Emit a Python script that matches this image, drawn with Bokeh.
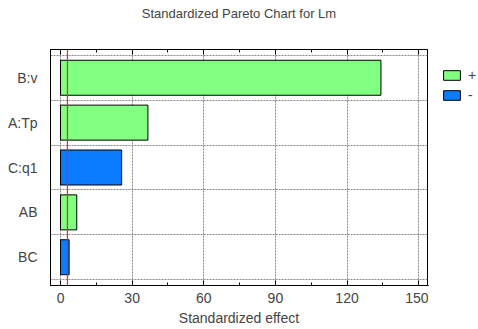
from bokeh.plotting import figure
from bokeh.layouts import row
from bokeh.models import (ColumnDataSource, Range1d, FixedTicker, SingleIntervalTicker,
                          LinearAxis, Span, Legend, LegendItem)
from bokeh.embed import file_html
from bokeh.resources import INLINE

# ---- data ----
title_text = "Standardized Pareto Chart for Lm"
factors = ["B:v", "A:Tp", "C:q1", "AB", "BC"]
effects = [134.2, 36.6, 25.6, 6.8, 3.6]
signs = ["+", "+", "-", "+", "-"]
critical = 2.9
x_ticks = [0, 30, 60, 90, 120, 150]

FONT = "Liberation Sans"
GREEN = "#80ff80"
BLUE = "#0a7cff"

n = len(factors)
ypos = [n - i for i in range(n)]

H = 329
p = figure(width=428, height=H, output_backend="svg", toolbar_location=None,
           x_range=Range1d(-4.2, 153.7), y_range=Range1d(0.37, 5.63),
           min_border_left=50, min_border_right=1, min_border_top=49, min_border_bottom=44)
p.background_fill_color = "white"
p.border_fill_color = "white"
p.outline_line_color = "black"
p.outline_line_width = 1

sources = {}
for s in ("+", "-"):
    idx = [i for i in range(n) if signs[i] == s]
    sources[s] = ColumnDataSource(dict(y=[ypos[i] for i in idx], right=[effects[i] for i in idx]))
colors = {"+": GREEN, "-": BLUE}

for s in ("+", "-"):
    p.hbar(y="y", left=0, right="right", height=0.78, source=sources[s],
           fill_color=colors[s], line_color="black", line_width=1)

p.add_layout(Span(location=critical, dimension="height", line_color="#ff2020", line_width=1.2))

# grids
p.xgrid.ticker = FixedTicker(ticks=x_ticks)
p.ygrid.ticker = FixedTicker(ticks=[y + 0.5 for y in range(0, n + 1)])
for g in (p.xgrid, p.ygrid):
    g.grid_line_color = "#888888"
    g.grid_line_dash = "2 1"
    g.grid_line_width = 1

# bottom axis
xa = p.xaxis[0]
xa.ticker = SingleIntervalTicker(interval=30, num_minor_ticks=2)
xa.axis_label = "Standardized effect"
xa.axis_label_text_font = FONT
xa.axis_label_text_font_size = "14px"
xa.axis_label_text_font_style = "normal"
xa.axis_label_standoff = 4
xa.major_label_text_font = FONT
xa.major_label_text_font_size = "14px"
xa.major_label_standoff = 7
xa.major_tick_in = 5
xa.major_tick_out = 0
xa.minor_tick_in = 3
xa.minor_tick_out = 0
xa.axis_line_color = "black"

# left axis
ya = p.yaxis[0]
ya.ticker = FixedTicker(ticks=ypos)
ya.major_label_overrides = {y: f for y, f in zip(ypos, factors)}
ya.major_label_text_font = FONT
ya.major_label_text_font_size = "14px"
ya.major_tick_line_color = None
ya.minor_tick_line_color = None
ya.major_label_standoff = 7
ya.axis_line_color = "black"

# top axis: ticks only, carries the chart title as its label
top = LinearAxis(ticker=SingleIntervalTicker(interval=30, num_minor_ticks=2),
                 major_label_text_font_size="0px",
                 major_tick_in=5, major_tick_out=0,
                 minor_tick_in=3, minor_tick_out=0, axis_line_color="black",
                 axis_label=title_text, axis_label_text_font=FONT,
                 axis_label_text_font_size="13px", axis_label_text_font_style="normal",
                 axis_label_standoff=29)
p.add_layout(top, "above")

# legend panel to the right of the chart
lg = figure(width=50, height=H, output_backend="svg", toolbar_location=None,
            x_range=Range1d(1000, 1001), y_range=Range1d(1000, 1001),
            x_axis_location=None, y_axis_location=None,
            min_border_left=0, min_border_right=0, min_border_top=0, min_border_bottom=0)
lg.outline_line_color = None
lg.grid.visible = False
lg.background_fill_color = "white"
lg.border_fill_color = "white"
items = []
for s in ("+", "-"):
    r = lg.hbar(y="y", left=0, right="right", height=0.78, source=sources[s],
                fill_color=colors[s], line_color="black", line_width=1)
    items.append(LegendItem(label=s, renderers=[r]))

legend = Legend(items=items, location=(13, 180), padding=0, margin=0, spacing=0,
                glyph_width=21, glyph_height=12, label_height=20, label_standoff=6,
                label_text_font=FONT, label_text_font_size="14px",
                border_line_color=None, background_fill_alpha=0)
lg.add_layout(legend)

layout = row(p, lg)
open("out.html", "w").write(file_html(layout, INLINE))
